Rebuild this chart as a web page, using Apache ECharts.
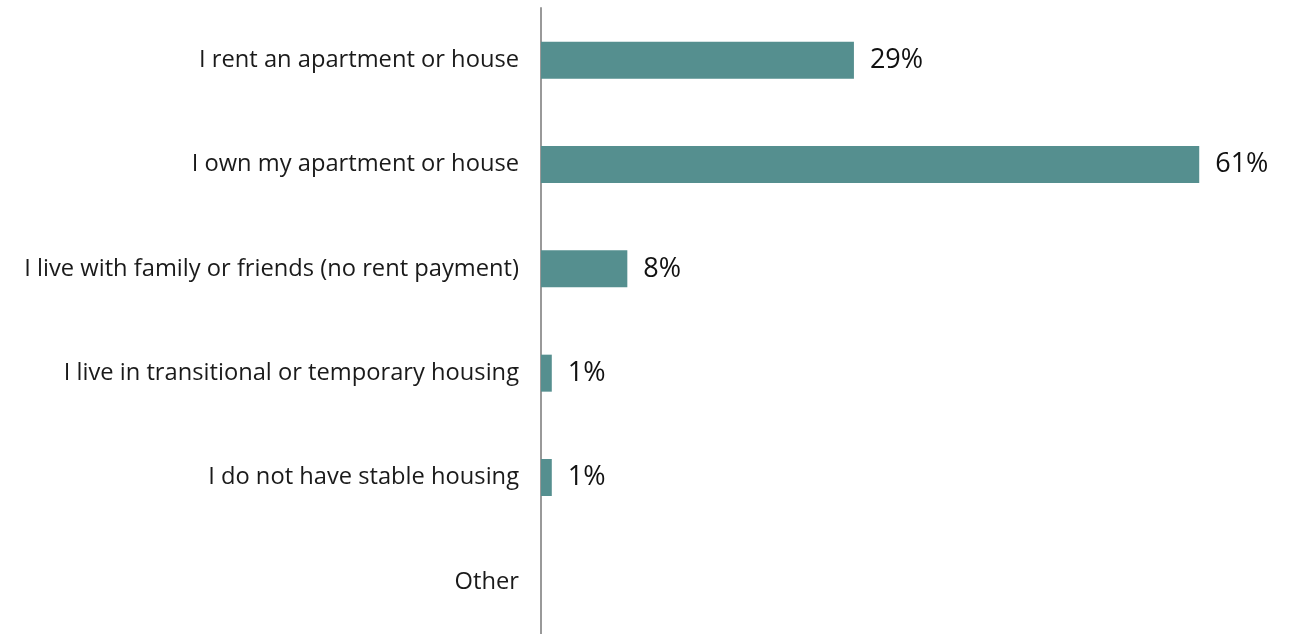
<!DOCTYPE html>
<html>
<head>
<meta charset="utf-8">
<script src="https://cdn.jsdelivr.net/npm/echarts@6/dist/echarts.min.js"></script>
<style>
  html, body { margin: 0; padding: 0; background: #ffffff; }
  #chart { width: 1291px; height: 634px; }
</style>
</head>
<body>
<div id="chart"></div>
<script>
// Housing situation of respondents (share of responses, %)
const categories = [
  'I rent an apartment or house',
  'I own my apartment or house',
  'I live with family or friends (no rent payment)',
  'I live in transitional or temporary housing',
  'I do not have stable housing',
  'Other'
];
const shares = [29, 61, 8, 1, 1, null];

const chart = echarts.init(document.getElementById('chart'), null, { renderer: 'canvas' });

chart.setOption({
  animation: false,
  backgroundColor: '#ffffff',
  grid: { left: 541, top: 8, width: 701.4, height: 630, containLabel: false },
  xAxis: {
    type: 'value',
    min: 0,
    max: 65,
    show: false
  },
  yAxis: {
    type: 'category',
    data: categories,
    inverse: true,
    axisLine: { show: true, lineStyle: { color: '#999999', width: 2 } },
    axisTick: { show: false },
    axisLabel: {
      margin: 22,
      color: '#1a1a1a',
      fontFamily: 'Open Sans',
      fontSize: 23.7
    },
    splitLine: { show: false }
  },
  series: [{
    type: 'bar',
    data: shares,
    barWidth: 37,
    itemStyle: { color: '#558f8f' },
    label: {
      show: true,
      position: 'right',
      distance: 16,
      color: '#111111',
      fontFamily: 'Open Sans',
      fontSize: 27,
      formatter: p => (p.value == null ? '' : p.value + '%')
    }
  }]
});
</script>
</body>
</html>
